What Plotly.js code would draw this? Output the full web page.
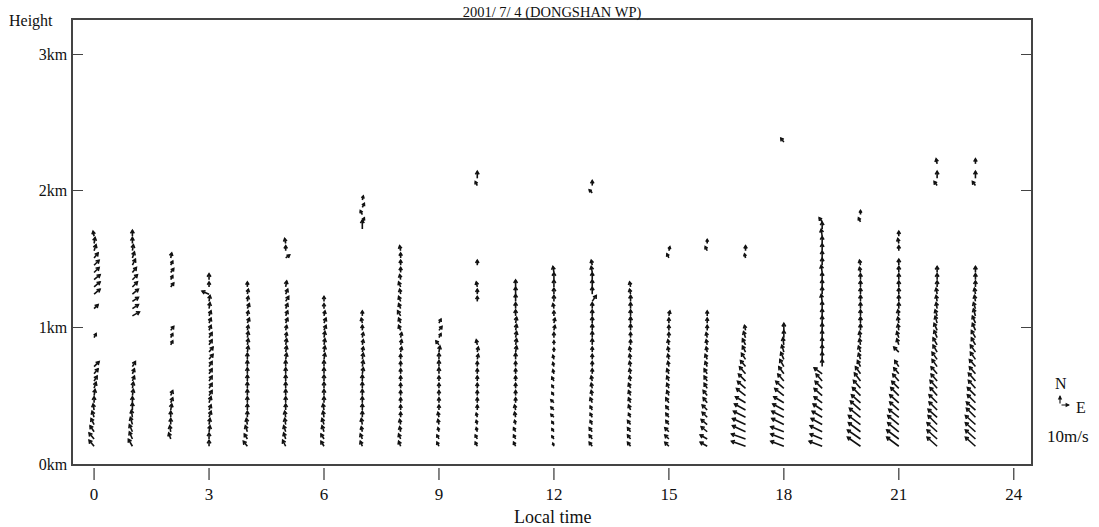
<!DOCTYPE html>
<html><head><meta charset="utf-8">
<script src="https://cdn.plot.ly/plotly-3.0.1.min.js"></script>
<style>html,body{margin:0;padding:0;background:#fff}#chart{width:1099px;height:527px}</style>
</head><body><div id="chart"></div>
<script>
const _ = null;
const TITLE = '2001/ 7/ 4 (DONGSHAN WP)';
const X_TITLE = 'Local time';
const Y_LABEL = 'Height';
const HOURS = [0,1,2,3,4,5,6,7,8,9,10,11,12,13,14,15,16,17,18,19,20,21,22,23];
const X_TICKS = [0,3,6,9,12,15,18,21,24];
const Y_TICKS = [0,1,2,3];
const Y_SUFFIX = 'km';
const REF_SPEED = 10;           // m/s, legend arrow
const REF_LABEL = '10m/s';
// range-gate heights (km)
const GATES_KM = [0.130,0.183,0.236,0.289,0.342,0.395,0.448,0.501,0.554,0.607,0.660,0.713,0.766,0.819,0.872,0.925,0.978,1.031,1.084,1.137,1.190,1.243,1.296,1.349,1.402,1.455,1.508,1.561,1.614,1.667,1.720,1.773,1.826,1.879,1.932,1.985,2.038,2.091,2.144,2.197,2.250,2.303,2.356];

// u (east) and v (north) wind components, m/s, indexed by gate; _ = no data
const u00 = [-5,-5,-4,-3,-2,-1,0,1,2,3,4,5,_,_,_,2,_,_,_,4,_,6,6,6,5,5,4,2,1,-1];
const v00 = [6,6,6,6,6,6,6,6,6,5,5,5,_,_,_,4,_,_,_,4,_,5,5,5,5,5,5,6,6,5];
const u01 = [-4,-3,-3,-2,-1,0,0,1,1,2,2,3,_,_,_,_,_,_,7,6,6,6,5,5,4,3,2,1,0,0];
const v01 = [7,7,7,7,7,7,6,6,6,5,5,5,_,_,_,_,_,_,4,4,4,5,5,5,5,6,6,6,6,6];
const u02 = [_,-2,-1,0,0,1,2,2,_,_,_,_,_,_,2,2,3,_,_,_,_,_,3,2,3,2,1];
const v02 = [_,6,6,6,6,6,5,5,_,_,_,_,_,_,4,4,4,_,_,_,_,_,4,4,4,4,5];
const u03 = [0,0,1,1,2,2,2,3,3,3,3,3,4,4,3,3,2,2,2,1,1,-7,0,0];
const v03 = [6,6,6,6,6,5,6,5,5,5,5,5,5,5,5,5,5,5,5,6,6,3,5,6];
const u04 = [-4,-3,-2,-1,0,0,0,0,0,0,0,0,0,1,1,1,1,2,1,2,1,1,0];
const v04 = [5,5,6,6,6,6,6,6,6,6,6,6,6,6,6,6,5,5,5,5,5,5,5];
const u05 = [-3,-2,-2,-1,-1,0,0,0,0,0,0,0,1,1,1,1,1,2,2,2,3,2,1,_,_,_,4,0,-1];
const v05 = [6,6,6,6,6,6,6,6,6,6,6,6,6,6,6,5,5,5,5,5,5,5,6,_,_,_,3,5,5];
const u06 = [-3,-3,-2,-2,-1,-1,0,0,0,0,0,0,1,1,1,1,2,2,1,0,0];
const v06 = [5,5,6,6,6,6,6,6,6,6,6,6,6,6,6,6,5,5,5,5,5];
const u07 = [-2,-2,-1,-1,0,0,0,0,0,0,1,1,1,1,1,1,0,-1,0,_,_,_,_,_,_,_,_,_,_,_,0,2,-2,2,1];
const v07 = [5,5,5,6,6,6,6,6,6,6,6,6,6,5,5,5,5,5,5,_,_,_,_,_,_,_,_,_,_,_,9,4,4,4,4];
const u08 = [-2,-2,-1,-1,0,0,0,0,0,0,0,0,0,1,1,1,-2,-2,-3,-2,-2,-1,-2,-1,0,0,0,-1];
const v08 = [5,5,5,5,5,5,5,5,5,5,5,5,5,5,5,5,5,5,5,5,5,5,5,5,5,5,5,5];
const u09 = [-2,-2,-1,-1,-1,0,0,0,0,0,0,0,0,1,-3,2,3,2];
const v09 = [4,4,4,5,5,5,5,5,5,5,6,6,6,6,4,4,4,4];
const u10 = [-2,-2,-1,-1,-1,0,0,0,0,0,0,0,1,1,-1,_,_,_,_,_,0,0,-1,_,_,0,_,_,_,_,_,_,_,_,_,_,-2,0];
const v10 = [4,4,4,4,4,5,5,5,5,5,5,5,5,5,5,_,_,_,_,_,5,5,5,_,_,5,_,_,_,_,_,_,_,_,_,_,4,7];
const u11 = [-2,-2,-2,-1,-1,-1,0,0,0,0,0,0,0,1,1,1,1,1,0,0,0,0,0];
const v11 = [4,4,4,4,5,5,5,5,5,5,5,5,6,6,6,6,6,6,6,6,7,7,7];
const u12 = [-1,-2,-2,-2,-3,-3,-3,-2,-2,-2,-1,-1,-1,0,0,0,1,1,0,-1,0,0,0,0,-1];
const v12 = [3,3,3,3,3,3,3,3,3,4,4,4,4,4,4,5,5,5,5,5,6,6,7,7,6];
const u13 = [-3,-3,-3,-2,-2,-2,-2,-1,-1,-1,0,0,0,0,0,0,0,0,0,0,4,0,0,0,-1,-1,_,_,_,_,_,_,_,_,_,-3,0];
const v13 = [4,4,4,4,4,4,5,5,5,5,5,5,5,5,6,6,6,6,6,6,6,7,7,7,6,5,_,_,_,_,_,_,_,_,_,3,5];
const u14 = [-3,-3,-3,-3,-2,-2,-2,-2,-2,-1,-1,-1,-1,-1,0,0,0,0,0,0,0,-1,-1];
const v14 = [4,4,4,4,4,5,5,5,5,5,5,5,5,5,5,5,6,6,6,6,6,5,5];
const u15 = [-4,-4,-4,-3,-3,-3,-3,-2,-2,-2,-2,-1,-1,-1,-1,0,0,0,1,_,_,_,_,_,_,_,-2,1];
const v15 = [4,4,4,4,4,4,5,5,5,5,5,5,5,5,5,5,5,5,5,_,_,_,_,_,_,_,4,4];
const u16 = [-7,-7,-6,-6,-5,-5,-4,-4,-3,-3,-3,-2,-2,-1,-1,-1,0,0,0,_,_,_,_,_,_,_,_,-2,0];
const v16 = [4,4,5,5,5,5,5,5,5,5,5,5,5,5,5,5,5,5,5,_,_,_,_,_,_,_,_,4,4];
const u17 = [-14,-14,-13,-13,-12,-11,-10,-9,-8,-7,-6,-5,-4,-3,-3,-2,-1,_,_,_,_,_,_,_,_,_,-1,0];
const v17 = [5,5,6,6,6,6,6,7,7,7,7,6,6,6,6,6,5,_,_,_,_,_,_,_,_,_,4,5];
const u18 = [-13,-13,-13,-12,-12,-11,-10,-9,-8,-6,-5,-4,-3,-2,-1,0,0,_,_,_,_,_,_,_,_,_,_,_,_,_,_,_,_,_,_,_,_,_,_,_,_,_,-3];
const v18 = [5,5,5,6,6,6,6,7,7,7,7,7,7,7,7,7,7,_,_,_,_,_,_,_,_,_,_,_,_,_,_,_,_,_,_,_,_,_,_,_,_,_,4];
const u19 = [-13,-12,-12,-11,-10,-9,-8,-8,-7,-6,-8,0,0,0,0,0,0,0,0,0,-1,0,0,0,-1,0,0,0,0,-1,0,-3];
const v19 = [5,5,6,6,6,6,6,7,7,7,6,7,7,7,7,7,7,7,7,7,7,7,7,7,7,7,7,7,7,7,7,4];
const u20 = [-13,-13,-12,-12,-11,-10,-9,-8,-7,-6,-5,-3,-2,-2,-1,-1,0,0,0,0,0,0,0,0,-1,-1,_,_,_,_,_,-2,0];
const v20 = [9,9,9,9,9,9,8,8,8,8,7,6,6,6,6,6,6,6,6,6,6,6,6,6,5,5,_,_,_,_,_,4,4];
const u21 = [-12,-12,-11,-11,-10,-9,-9,-8,-7,-6,-5,-4,_,-5,-2,-2,-1,-1,-1,0,0,0,0,0,0,0,_,0,-1,0];
const v21 = [9,9,9,9,8,8,8,8,7,7,6,6,_,5,6,6,6,6,6,6,6,6,6,6,6,6,_,5,5,5];
const u22 = [-10,-10,-10,-9,-9,-8,-8,-7,-7,-6,-6,-5,-5,-4,-4,-3,-3,-2,-2,-1,-1,-1,0,0,0,_,_,_,_,_,_,_,_,_,_,_,-3,0,_,-1];
const v22 = [9,9,9,9,8,8,8,8,8,7,7,7,7,7,7,7,7,7,6,6,6,6,6,6,6,_,_,_,_,_,_,_,_,_,_,_,4,7,_,5];
const u23 = [-10,-10,-10,-10,-9,-9,-8,-8,-7,-7,-6,-6,-5,-5,-4,-4,-3,-3,-2,-2,-1,-1,0,0,0,_,_,_,_,_,_,_,_,_,_,_,-3,0,_,0];
const v23 = [9,9,9,9,9,8,8,8,8,8,7,7,7,7,7,7,7,7,7,6,6,6,6,6,6,_,_,_,_,_,_,_,_,_,_,_,4,7,_,5];

const U = [u00,u01,u02,u03,u04,u05,u06,u07,u08,u09,u10,u11,u12,u13,u14,u15,u16,u17,u18,u19,u20,u21,u22,u23];
const V = [v00,v01,v02,v03,v04,v05,v06,v07,v08,v09,v10,v11,v12,v13,v14,v15,v16,v17,v18,v19,v20,v21,v22,v23];

// ---- layout geometry ----
const W = 1099, H = 527;
const M = {l: 73, r: 68, t: 20, b: 63};
const XR = [-0.55, 24.45], YR = [0, 3.25];
const PX_PER_MS = 1.0;               // arrow length: pixels per m/s
const plotW = W - M.l - M.r, plotH = H - M.t - M.b;
const pxX = plotW / (XR[1] - XR[0]);
const pxY = plotH / (YR[1] - YR[0]);
const FONT = 'Liberation Serif, Times New Roman, serif';
const INK = '#111';
const AXIS = '#444';

const xs = [], ys = [];
const HEAD = 3.6, ANG = 0.55;
HOURS.forEach((h, i) => {
  const u = U[i], v = V[i];
  for (let g = 0; g < u.length; g++) {
    if (u[g] === null || v[g] === null) continue;
    const x0 = h, y0 = GATES_KM[g];
    const dxp = u[g] * PX_PER_MS, dyp = v[g] * PX_PER_MS;
    const x1 = x0 + dxp / pxX, y1 = y0 + dyp / pxY;
    const len = Math.hypot(dxp, dyp) || 1;
    const a = -dxp / len, b = -dyp / len;
    const hl = Math.min(HEAD, len * 0.65);
    const c = Math.cos(ANG), s = Math.sin(ANG);
    const b1x = (a * c - b * s) * hl, b1y = (a * s + b * c) * hl;
    const b2x = (a * c + b * s) * hl, b2y = (-a * s + b * c) * hl;
    xs.push(x0, x1, null, x1 + b1x / pxX, x1, x1 + b2x / pxX, null);
    ys.push(y0, y1, null, y1 + b1y / pxY, y1, y1 + b2y / pxY, null);
  }
});

const px2pX = px => (px - M.l) / plotW;
const px2pY = py => (H - M.b - py) / plotH;
const refLen = REF_SPEED * PX_PER_MS;
const txt = (size) => ({family: FONT, size: size, color: INK});

const data = [{
  type: 'scatter', mode: 'lines', x: xs, y: ys,
  line: {color: INK, width: 1.6}, hoverinfo: 'skip', showlegend: false
}];

// x tick marks sit slightly below the frame, detached from it
const tickShapes = X_TICKS.map(t => ({
  type: 'line', xref: 'x', yref: 'paper', x0: t, x1: t,
  y0: px2pY(H - M.b + 4), y1: px2pY(H - M.b + 16),
  line: {color: AXIS, width: 1.3}
}));

const layout = {
  width: W, height: H, margin: M,
  paper_bgcolor: '#fff', plot_bgcolor: '#fff',
  font: txt(17),
  showlegend: false,
  title: {text: TITLE, font: txt(14.5), x: 0.5, xref: 'paper', y: 1 - 12/H, yanchor: 'middle'},
  xaxis: {
    range: XR, tickvals: X_TICKS, ticktext: X_TICKS.map(String),
    ticks: '', ticklen: 0,
    showline: true, linecolor: AXIS, linewidth: 1.6, mirror: true,
    showgrid: false, zeroline: false, ticklabelstandoff: 14,
    tickfont: txt(17)
  },
  yaxis: {
    range: YR, tickvals: Y_TICKS, ticktext: Y_TICKS.map(t => t + Y_SUFFIX),
    ticks: 'inside', ticklen: 10, tickwidth: 1.3, tickcolor: AXIS,
    showline: true, linecolor: AXIS, linewidth: 1.6, mirror: 'ticks',
    showgrid: false, zeroline: false, ticklabelstandoff: 1,
    tickfont: txt(16)
  },
  shapes: tickShapes,
  annotations: [
    {text: X_TITLE, xref: 'paper', yref: 'paper', x: 0.5, y: px2pY(517), xanchor: 'center', yanchor: 'middle', showarrow: false, font: txt(18)},
    {text: Y_LABEL, xref: 'paper', yref: 'paper', x: px2pX(31), y: px2pY(21), xanchor: 'center', yanchor: 'middle', showarrow: false, font: txt(16)},
    {text: 'N', xref: 'paper', yref: 'paper', x: px2pX(1061), y: px2pY(383), xanchor: 'center', yanchor: 'middle', showarrow: false, font: txt(16)},
    {text: 'E', xref: 'paper', yref: 'paper', x: px2pX(1081), y: px2pY(407), xanchor: 'center', yanchor: 'middle', showarrow: false, font: txt(16)},
    {text: REF_LABEL, xref: 'paper', yref: 'paper', x: px2pX(1068), y: px2pY(436), xanchor: 'center', yanchor: 'middle', showarrow: false, font: txt(17)},
    {text: '', xref: 'paper', yref: 'paper', x: px2pX(1060), y: px2pY(405 - refLen), ax: 0, ay: refLen, axref: 'pixel', ayref: 'pixel', showarrow: true, arrowhead: 2, arrowsize: 0.8, arrowwidth: 1.1, arrowcolor: INK, standoff: 0, startstandoff: 0},
    {text: '', xref: 'paper', yref: 'paper', x: px2pX(1060 + refLen), y: px2pY(405), ax: -refLen, ay: 0, axref: 'pixel', ayref: 'pixel', showarrow: true, arrowhead: 2, arrowsize: 0.8, arrowwidth: 1.1, arrowcolor: INK, standoff: 0, startstandoff: 0}
  ]
};

Plotly.newPlot('chart', data, layout, {displayModeBar: false, staticPlot: true});
</script>
</body></html>
